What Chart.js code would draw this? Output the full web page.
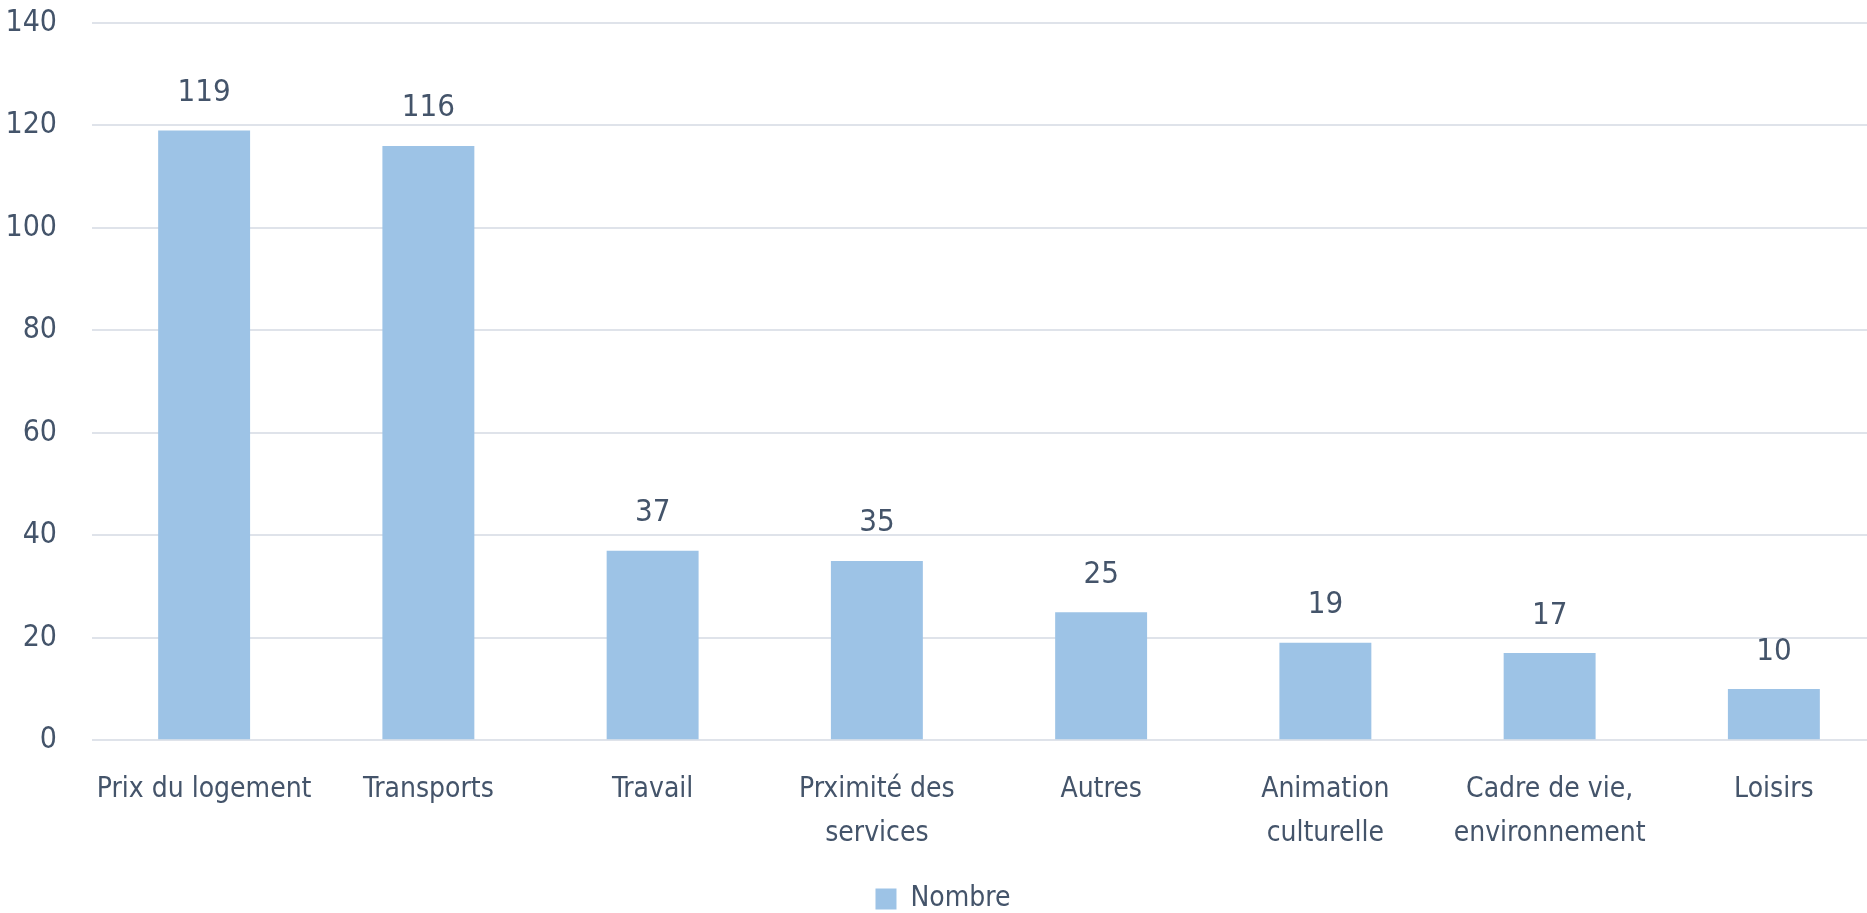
<!DOCTYPE html>
<html>
<head>
<meta charset="utf-8">
<script src="https://cdn.jsdelivr.net/npm/chart.js@4/dist/chart.umd.min.js"></script>
<style>
  html, body { margin: 0; padding: 0; background: #fff; overflow: hidden; }
  #wrap { width: 1886px; height: 913px; }
</style>
</head>
<body>
<div id="wrap"><canvas id="chart" width="1886" height="913"></canvas></div>
<script>
const categories = [
    "Prix du logement",
    "Transports",
    "Travail",
    ["Prximité des", "services"],
    "Autres",
    ["Animation", "culturelle"],
    ["Cadre de vie,", "environnement"],
    "Loisirs"
];
const nombre = [119, 116, 37, 35, 25, 19, 17, 10];
const yTicks = [0, 20, 40, 60, 80, 100, 120, 140];

const textColor = '#44546a';
const fontFamily = '"DejaVu Sans Condensed", "Liberation Sans Narrow", "Open Sans", sans-serif';

// draws the value above each bar
const valueLabels = {
    id: 'valueLabels',
    afterDatasetsDraw(chart) {
        const ctx = chart.ctx;
        const meta = chart.getDatasetMeta(0);
        ctx.save();
        ctx.fillStyle = textColor;
        ctx.font = '31px ' + fontFamily;
        ctx.textAlign = 'center';
        ctx.textBaseline = 'bottom';
        meta.data.forEach((bar, i) => {
            ctx.fillText(String(nombre[i]), bar.x, bar.y - 22);
        });
        ctx.restore();
    }
};

const ctx = document.getElementById('chart').getContext('2d');
new Chart(ctx, {
    type: 'bar',
    data: {
        labels: categories,
        datasets: [{
            label: 'Nombre',
            data: nombre,
            backgroundColor: '#9dc3e6',
            borderWidth: 0,
            categoryPercentage: 1.0,
            barPercentage: 0.41
        }]
    },
    options: {
        responsive: false,
        animation: false,
        layout: { padding: { top: 0, left: 0, right: 0, bottom: -10 } },
        plugins: {
            legend: {
                position: 'bottom',
                labels: {
                    color: textColor,
                    font: { family: fontFamily, size: 28 },
                    boxWidth: 21,
                    boxHeight: 21,
                    padding: 10
                }
            },
            tooltip: { enabled: false }
        },
        scales: {
            x: {
                grid: { display: false },
                border: { display: false },
                ticks: {
                    color: textColor,
                    font: { family: fontFamily, size: 28, lineHeight: 1.55 },
                    maxRotation: 0,
                    autoSkip: false,
                    padding: 20
                }
            },
            y: {
                min: 0,
                max: 140,
                afterBuildTicks(axis) {
                    axis.ticks = yTicks.map(v => ({ value: v }));
                },
                afterFit(axis) {
                    axis.width = 92;
                    axis.paddingTop = 23;
                    axis.paddingBottom = 0;
                },
                grid: { color: '#dfe3ea', lineWidth: 2, drawTicks: false },
                border: { display: false },
                ticks: {
                    color: textColor,
                    font: { family: fontFamily, size: 30 },
                    padding: 35
                }
            }
        }
    },
    plugins: [valueLabels]
});
</script>
</body>
</html>
